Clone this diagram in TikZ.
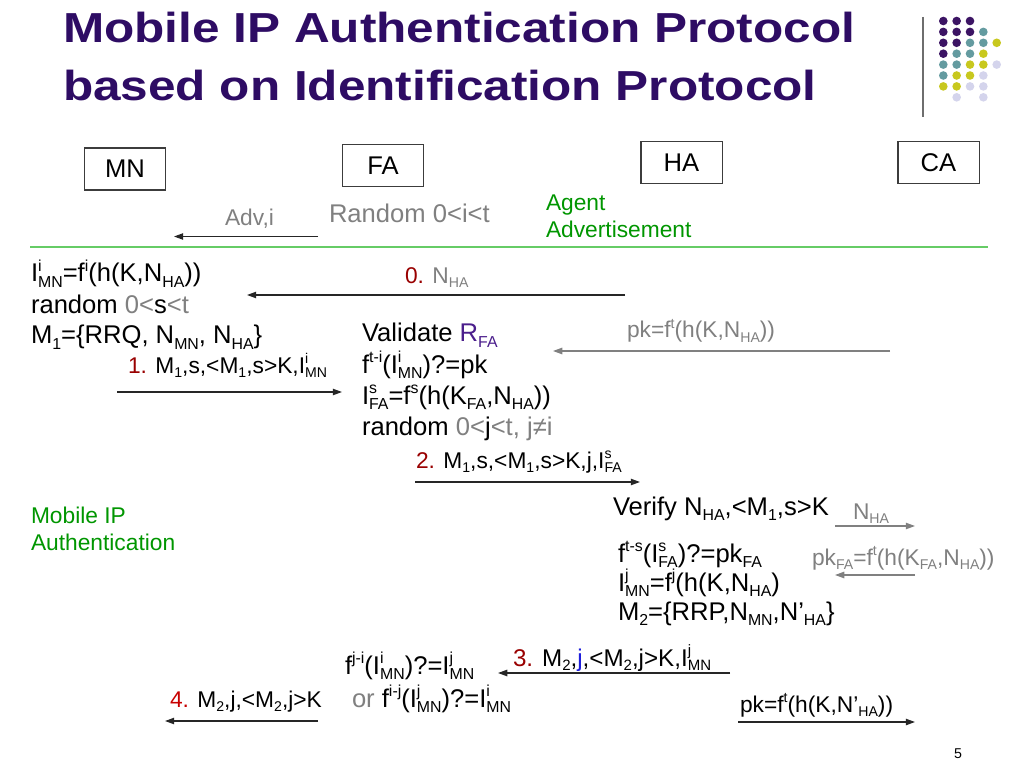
\documentclass[tikz,border=0pt]{standalone}
\usepackage{fontspec}
\setmainfont{Liberation Sans}
\usetikzlibrary{arrows.meta}
\definecolor{ttl}{RGB}{46,12,100}
\definecolor{dred}{RGB}{153,0,0}
\definecolor{redfour}{RGB}{200,0,0}
\definecolor{gtxt}{RGB}{128,128,128}
\definecolor{agreen}{RGB}{0,150,0}
\definecolor{lgreen}{RGB}{102,204,102}
\definecolor{rfa}{RGB}{75,30,140}
\definecolor{jblue}{RGB}{30,30,220}
\definecolor{boxc}{RGB}{60,60,60}
\definecolor{vline}{RGB}{110,110,110}
\definecolor{dP}{RGB}{60,20,100}
\definecolor{dT}{RGB}{100,155,160}
\definecolor{dY}{RGB}{200,200,30}
\definecolor{dL}{RGB}{212,212,236}
\makeatletter
\newcommand\smallidx{\fontsize{\fpeval{0.62*\f@size}}{\fpeval{0.7*\f@size}}\selectfont}
\makeatother
\newcommand\Sb[1]{\raisebox{-0.2em}{\smallidx #1}}
\newcommand\Sp[1]{\raisebox{0.42em}{\smallidx #1}}
\newcommand\SpSb[2]{\rlap{\Sp{#1}}\Sb{#2}}
\newcommand\fL{\fontsize{18}{21.6}\selectfont}
\newcommand\fM{\fontsize{16}{19.2}\selectfont}
\newcommand\fMM{\fontsize{17}{20.4}\selectfont}
\newcommand\gr[1]{\textcolor{gtxt}{#1}}
\begin{document}
\begin{tikzpicture}[x=0.703125pt,y=-0.703125pt,
  tx/.style={anchor=base west,inner sep=0pt,outer sep=0pt},
  box/.style={draw=boxc,line width=0.75pt,minimum width=57pt,minimum height=29.5pt,inner sep=0pt,font=\fL},
  msg/.style={-{Triangle[length=6.5pt,width=4.5pt]},line width=0.9pt,draw=black!85},
  gmsg/.style={msg,draw=gtxt},
  ttlfont/.style={font=\fontsize{29.5}{35}\selectfont\bfseries,text=ttl}]
\useasboundingbox (0,0) rectangle (1024,768);
\fill[white] (0,0) rectangle (1024,768);
% title
\begin{scope}[shift={(63,43)}]
\node[tx,ttlfont,xscale=1.18] (t1) at (0,0) {Mobile IP Authentication Protocol};
\end{scope}
\begin{scope}[shift={(63,101)}]
\node[tx,ttlfont,xscale=1.18] (t2) at (0,0) {based on Identification Protocol};
\end{scope}
% decoration
\coordinate (vl1) at (923,17); \coordinate (vl2) at (923,117);
\draw[line width=1.4pt,vline] (vl1) -- (vl2);
\foreach \c/\r/\k in {0/0/dP,1/0/dP,2/0/dP, 0/1/dP,1/1/dP,2/1/dP,3/1/dT,
  0/2/dP,1/2/dP,2/2/dT,3/2/dT,4/2/dY, 0/3/dP,1/3/dT,2/3/dT,3/3/dY,
  0/4/dT,1/4/dT,2/4/dY,3/4/dY,4/4/dL, 0/5/dT,1/5/dY,2/5/dY,3/5/dL,
  0/6/dY,1/6/dY,2/6/dL,3/6/dL, 1/7/dL,3/7/dL}
  \fill[\k] ({943.3+13.35*\c},{21+10.9*\r}) circle[radius=4.3];
% entity boxes
\node[box] (MN) at (125,169) {MN};
\node[box] (FA) at (383,165.5) {FA};
\node[box] (HA) at (681.5,162.5) {HA};
\node[box] (CA) at (938.5,162.5) {CA};
% agent advertisement
\node[tx,font=\fM,text=gtxt] (adv) at (225,226) {Adv,i};
\coordinate (advS) at (318,236.5); \coordinate (advE) at (174,236.5);
\draw[msg] (advS) -- (advE);
\node[tx,font=\fL,text=gtxt] (rnd) at (329,223) {Random 0<i<t};
\node[tx,font=\fM,text=agreen] (ag1) at (546,211) {Agent};
\node[tx,font=\fM,text=agreen] (ag2) at (546,238) {Advertisement};
\coordinate (gl1) at (30,247); \coordinate (gl2) at (988,247);
\draw[lgreen,line width=1pt] (gl1) -- (gl2);
% MN block
\node[tx,font=\fL] (l1) at (31,282) {I\SpSb{i}{MN}=f\Sp{i}(h(K,N\Sb{HA}))};
\node[tx,font=\fL] (l2) at (31,313) {random \gr{0<}s\gr{<t}};
\node[tx,font=\fL] (l3) at (31,344) {M\Sb{1}=\{RRQ, N\Sb{MN}, N\Sb{HA}\}};
% message 0
\node[tx,font=\fM] (m0) at (405,283) {\textcolor{dred}{0.} \gr{N\Sb{HA}}};
\coordinate (a0s) at (625,295); \coordinate (a0e) at (247,295);
\draw[msg] (a0s) -- (a0e);
% message 1
\node[tx,font=\fM] (m1) at (128,373) {\textcolor{dred}{1.} M\Sb{1},s,<M\Sb{1},s>K,I\SpSb{i}{MN}};
\coordinate (a1s) at (117,392); \coordinate (a1e) at (342,392);
\draw[msg] (a1s) -- (a1e);
% FA block
\node[tx,font=\fL] (v1) at (362,342) {Validate \textcolor{rfa}{R\Sb{FA}}};
\node[tx,font=\fL] (v2) at (362,373) {f\Sp{t-i}(I\SpSb{i}{MN})?=pk};
\node[tx,font=\fL] (v3) at (362,404) {I\SpSb{s}{FA}=f\Sp{s}(h(K\Sb{FA},N\Sb{HA}))};
\node[tx,font=\fL] (v4) at (362,435) {random \gr{0<}j\gr{<t, j≠i}};
% pk from CA
\node[tx,font=\fM,text=gtxt] (pk1) at (627,338) {pk=f\Sp{t}(h(K,N\Sb{HA}))};
\coordinate (p1s) at (890,351); \coordinate (p1e) at (553,351);
\draw[gmsg] (p1s) -- (p1e);
% message 2
\node[tx,font=\fM] (m2) at (416,468) {\textcolor{dred}{2.} M\Sb{1},s,<M\Sb{1},s>K,j,I\SpSb{s}{FA}};
\coordinate (a2s) at (415,482); \coordinate (a2e) at (640,482);
\draw[msg] (a2s) -- (a2e);
% phase label
\node[tx,font=\fM,text=agreen] (mi1) at (31,523) {Mobile IP};
\node[tx,font=\fM,text=agreen] (mi2) at (31,550) {Authentication};
% HA block
\node[tx,font=\fL] (h1) at (613,515) {Verify N\Sb{HA},<M\Sb{1},s>K};
\node[tx,font=\fM,text=gtxt] (nha) at (853,519) {N\Sb{HA}};
\coordinate (n1s) at (835,526); \coordinate (n1e) at (915,526);
\draw[gmsg] (n1s) -- (n1e);
\node[tx,font=\fL] (h2) at (618,562) {f\Sp{t-s}(I\SpSb{s}{FA})?=pk\Sb{FA}};
\node[tx,font=\fM,text=gtxt] (pkfa) at (812,565) {pk\Sb{FA}=f\Sp{t}(h(K\Sb{FA},N\Sb{HA}))};
\coordinate (p2s) at (915,575); \coordinate (p2e) at (835,575);
\draw[gmsg] (p2s) -- (p2e);
\node[tx,font=\fL] (h3) at (618,591) {I\SpSb{j}{MN}=f\Sp{j}(h(K,N\Sb{HA})};
\node[tx,font=\fL] (h4) at (618,620) {M\Sb{2}=\{RRP,N\Sb{MN},N’\Sb{HA}\}};
% message 3
\node[tx,font=\fMM] (m3) at (513,666) {\textcolor{dred}{3.} M\Sb{2},\textcolor{jblue}{j},<M\Sb{2},j>K,I\SpSb{j}{MN}};
\coordinate (a3s) at (730,673); \coordinate (a3e) at (498,673);
\draw[msg] (a3s) -- (a3e);
\node[tx,font=\fL] (f1) at (345,674) {f\Sp{j-i}(I\SpSb{i}{MN})?=I\SpSb{j}{MN}};
\node[tx,font=\fL] (f2) at (352,707) {\gr{or} f\Sp{i-j}(I\SpSb{j}{MN})?=I\SpSb{i}{MN}};
% message 4
\node[tx,font=\fM] (m4) at (170,707) {\textcolor{redfour}{4.} M\Sb{2},j,<M\Sb{2},j>K};
\coordinate (a4s) at (318,721); \coordinate (a4e) at (165,721);
\draw[msg] (a4s) -- (a4e);
% new pk
\node[tx,font=\fM] (pk3) at (740,712) {pk=f\Sp{t}(h(K,N’\Sb{HA}))};
\coordinate (p3s) at (738,722); \coordinate (p3e) at (915,722);
\draw[msg] (p3s) -- (p3e);
% page number
\node[anchor=base,inner sep=0pt,font=\fontsize{10}{12}\selectfont] (pg) at (958,758) {5};
\end{tikzpicture}
\end{document}
